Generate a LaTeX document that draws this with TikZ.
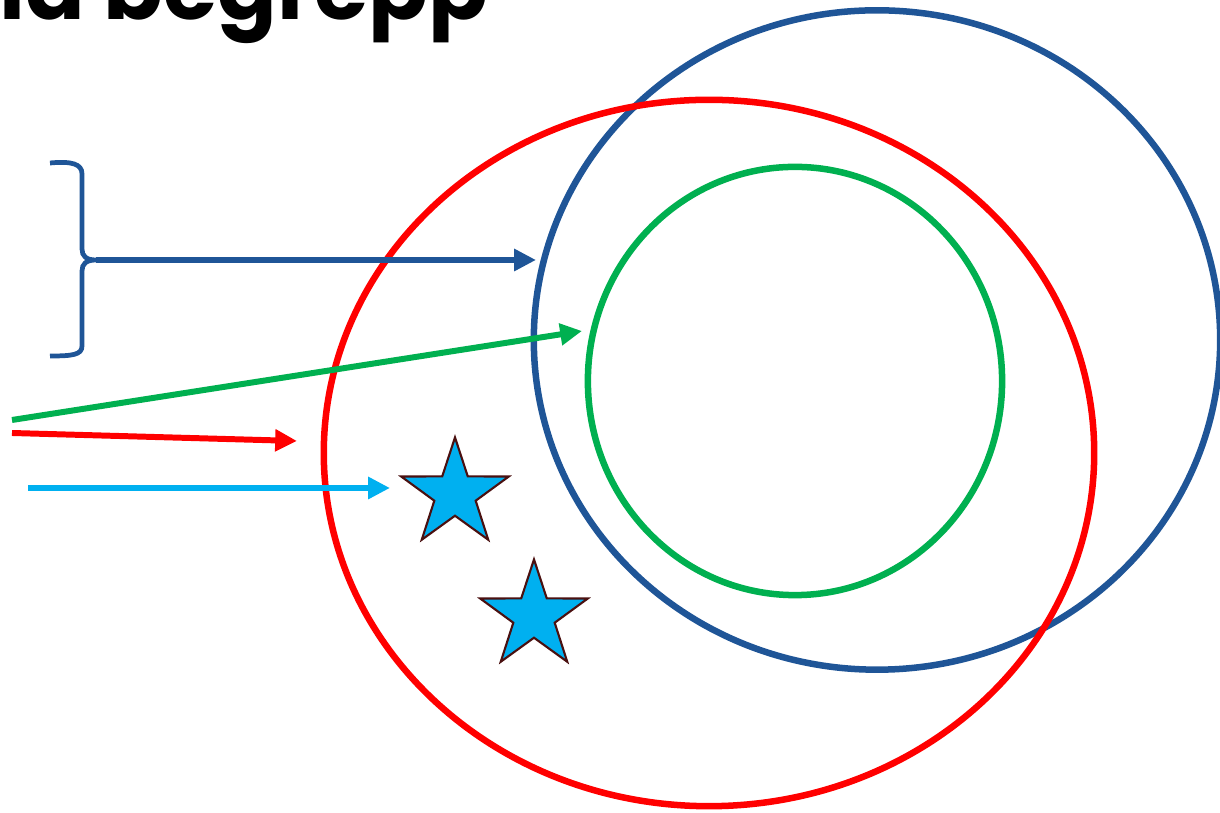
\documentclass[tikz,border=0pt]{standalone}
\usepackage{fontspec}
\setmainfont{Liberation Sans}
\newfontfamily\titlefont{Poppins}
\usetikzlibrary{shapes.geometric, arrows.meta, positioning}
\definecolor{begrblue}{HTML}{1F5597}
\definecolor{begrred}{HTML}{FF0000}
\definecolor{begrgreen}{HTML}{00B050}
\definecolor{begrcyan}{HTML}{00B0F0}
\definecolor{begrbrown}{HTML}{4A1010}

\begin{document}
\begin{tikzpicture}[
    x=0.01cm, y=-0.01cm,
    ring/.style={ellipse, draw, line width=1.85pt, inner sep=0pt},
    pointer/.style={-{Triangle[length=6.2pt, width=6pt]}, line width=1.7pt},
    starmark/.style={
      star, star points=5, star point ratio=2.6, minimum size=1.13cm,
      inner sep=0pt, draw=begrbrown, fill=begrcyan, line width=0.6pt
    },
  ]
  \clip (0,0) rectangle (1220,813);

  % title, cut at the top edge
  \node[anchor=base east, inner sep=0pt, font=\titlefont\bfseries\fontsize{25}{30}\selectfont]
    (title) at (489,20) {Centrala begrepp};

  % the three sets
  \node[ring, draw=begrblue, minimum width=6.86cm, minimum height=6.59cm] (blueset) at (877,340) {};
  \node[ring, draw=begrred, minimum width=7.70cm, minimum height=7.06cm] (redset) at (709,453) {};
  \node[ring, draw=begrgreen, minimum width=4.14cm, minimum height=4.28cm] (greenset) at (795,381) {};

  % elements
  \node[starmark] (star1) at (455,494) {};
  \node[starmark] (star2) at (534,616) {};

  % brace
  \coordinate (bracetop) at (50,163);
  \coordinate (bracetip) at (96,260);
  \coordinate (bracebot) at (50,356);
  \draw[begrblue, line width=1.35pt]
    (bracetop) .. controls (72,161) and (82,164) .. (82,174) -- (82,249)
    .. controls (82,256) and (86,260) .. (bracetip)
    .. controls (86,260) and (82,264) .. (82,271) -- (82,346)
    .. controls (82,355) and (72,356) .. (bracebot);

  % arrows
  \coordinate (bluehit) at (536,260);
  \coordinate (greenfrom) at (12,420);
  \coordinate (greenhit) at (582,331);
  \coordinate (redfrom) at (12,433);
  \coordinate (redhit) at (297,441);
  \coordinate (cyanfrom) at (28,488);
  \coordinate (cyanhit) at (390,488);

  \draw[pointer, begrblue] (bracetip) -- (bluehit);
  \draw[pointer, begrgreen] (greenfrom) -- (greenhit);
  \draw[pointer, begrred] (redfrom) -- (redhit);
  \draw[pointer, begrcyan] (cyanfrom) -- (cyanhit);
\end{tikzpicture}
\end{document}
